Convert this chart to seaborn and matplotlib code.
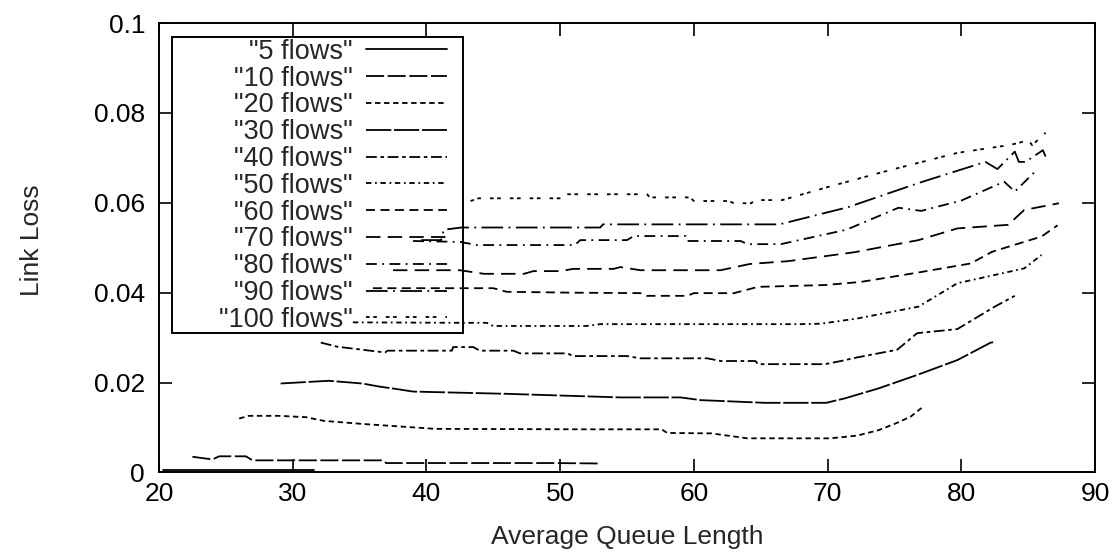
import matplotlib
matplotlib.use('Agg')
import pandas as pd
import seaborn as sns
import matplotlib.pyplot as plt
from matplotlib.patches import Rectangle

######################## data ########################

flow_names = ['"5 flows"', '"10 flows"', '"20 flows"', '"30 flows"', '"40 flows"', '"50 flows"',
              '"60 flows"', '"70 flows"', '"80 flows"', '"90 flows"', '"100 flows"']

x5 = [20.3, 25.0, 31.6]
y5 = [0.0005, 0.0005, 0.0005]

x10 = [22.5, 24.0, 24.5, 26.5, 27.0, 36.7, 37.0, 49.4, 53.0]
y10 = [0.0035, 0.0029, 0.0036, 0.0036, 0.0027, 0.0027, 0.0021, 0.0021, 0.0020]

x20 = [26.0, 26.7, 29.0, 31.0, 32.3, 35.2, 38.2, 40.7, 41.2, 51.7, 57.6, 58.0, 61.3,
       64.0, 70.2, 72.2, 73.8, 75.0, 76.2, 77.0, 77.2]
y20 = [0.0120, 0.0126, 0.0126, 0.0123, 0.0115, 0.0108, 0.0102, 0.0097, 0.0097, 0.0096,
       0.0096, 0.0088, 0.0087, 0.0076, 0.0076, 0.0082, 0.0094, 0.0108, 0.0124, 0.0143, 0.0150]

x30 = [29.1, 32.7, 35.2, 36.5, 37.7, 39.0, 46.0, 54.5, 59.0, 60.5, 65.3, 69.9, 71.3,
       73.8, 76.7, 79.7, 82.2, 82.5]
y30 = [0.0198, 0.0204, 0.0198, 0.0191, 0.0186, 0.0180, 0.0175, 0.0167, 0.0167, 0.0161,
       0.0155, 0.0155, 0.0165, 0.0187, 0.0217, 0.0250, 0.0289, 0.0290]

x40 = [32.1, 33.3, 36.9, 37.1, 41.9, 42.0, 43.5, 44.0, 46.5, 47.0, 50.5, 51.0, 55.0,
       56.0, 61.0, 62.0, 64.6, 64.8, 69.8, 71.0, 72.2, 75.2, 76.7, 79.7, 82.5, 84.0]
y40 = [0.0289, 0.0280, 0.0267, 0.0271, 0.0271, 0.0279, 0.0279, 0.0271, 0.0271, 0.0265,
       0.0265, 0.0259, 0.0259, 0.0254, 0.0254, 0.0248, 0.0248, 0.0241, 0.0241, 0.0248,
       0.0256, 0.0273, 0.0310, 0.0319, 0.0369, 0.0393]

x50 = [34.5, 42.5, 44.5, 45.0, 52.0, 53.0, 68.0, 69.5, 72.3, 76.8, 79.7, 84.7, 86.0]
y50 = [0.0334, 0.0333, 0.0333, 0.0326, 0.0326, 0.0330, 0.0330, 0.0331, 0.0343, 0.0369,
       0.0421, 0.0454, 0.0484]

x60 = [36.0, 42.5, 45.0, 46.0, 51.0, 56.0, 56.5, 59.5, 60.0, 63.0, 64.8, 69.8, 72.5,
       76.8, 80.7, 82.3, 86.0, 87.2]
y60 = [0.0410, 0.0410, 0.0410, 0.0402, 0.0400, 0.0399, 0.0393, 0.0393, 0.0399, 0.0399,
       0.0413, 0.0417, 0.0424, 0.0445, 0.0465, 0.0491, 0.0525, 0.0550]

x70 = [37.5, 42.5, 44.3, 47.3, 48.0, 50.0, 51.0, 54.0, 54.5, 56.0, 62.0, 64.2, 67.0,
       72.0, 76.8, 79.7, 83.5, 84.7, 87.3]
y70 = [0.0450, 0.0450, 0.0442, 0.0442, 0.0448, 0.0448, 0.0453, 0.0453, 0.0457, 0.0450,
       0.0450, 0.0464, 0.0470, 0.0490, 0.0517, 0.0543, 0.0551, 0.0584, 0.0599]

x80 = [39.0, 42.5, 43.8, 51.1, 51.5, 55.0, 55.5, 59.4, 59.5, 63.5, 64.0, 66.5, 71.4,
       75.3, 77.0, 80.0, 83.2, 84.0, 85.5]
y80 = [0.0515, 0.0513, 0.0506, 0.0506, 0.0517, 0.0517, 0.0526, 0.0526, 0.0515, 0.0515,
       0.0508, 0.0508, 0.0540, 0.0589, 0.0582, 0.0605, 0.0647, 0.0625, 0.0669]

x90 = [39.6, 41.1, 41.3, 42.6, 53.0, 53.2, 66.4, 71.5, 76.8, 81.8, 82.7, 84.0, 84.3,
       84.8, 86.1, 86.3]
y90 = [0.0517, 0.0517, 0.0540, 0.0545, 0.0545, 0.0552, 0.0552, 0.0590, 0.0644, 0.0691,
       0.0675, 0.0714, 0.0691, 0.0691, 0.0717, 0.0703]

x100 = [43.3, 43.9, 50.3, 50.5, 56.5, 56.7, 59.7, 60.0, 62.6, 63.0, 64.3, 64.5, 66.6,
        70.0, 74.7, 79.7, 83.7, 84.5, 85.0, 85.3, 86.3]
y100 = [0.0604, 0.0610, 0.0610, 0.0619, 0.0619, 0.0612, 0.0612, 0.0604, 0.0604, 0.0599,
        0.0599, 0.0606, 0.0606, 0.0635, 0.0673, 0.0711, 0.0729, 0.0735, 0.0740, 0.0728, 0.0756]

xs = [x5, x10, x20, x30, x40, x50, x60, x70, x80, x90, x100]
ys = [y5, y10, y20, y30, y40, y50, y60, y70, y80, y90, y100]

x_ticks = [20, 30, 40, 50, 60, 70, 80, 90]
y_ticks = [0, 0.02, 0.04, 0.06, 0.08, 0.1]
y_ticklabels = ['0', '0.02', '0.04', '0.06', '0.08', '0.1']

########################################################################

df = pd.concat([pd.DataFrame({'Average Queue Length': x, 'Link Loss': y, 'flows': n})
                for n, x, y in zip(flow_names, xs, ys)], ignore_index=True)

# gnuplot style monochrome dash types
dash_types = ['', (10, 2), (3, 2), (14, 1.5), (6, 2, 2, 2), (3, 2, 1, 2),
              (5, 3), (8, 4), (6, 3, 1, 3), (12, 3, 1, 3), (2, 2, 2, 5)]
dashes = dict(zip(flow_names, dash_types))
palette = {n: 'black' for n in flow_names}

sns.set_style('ticks')
plt.rcParams['font.family'] = ['Liberation Sans', 'DejaVu Sans']

fig, ax = plt.subplots(figsize=(11.14, 5.53), dpi=100)
fig.subplots_adjust(left=0.1427, right=0.983, top=0.9584, bottom=0.1456)

sns.lineplot(data=df, x='Average Queue Length', y='Link Loss', hue='flows', style='flows',
             hue_order=flow_names, style_order=flow_names, palette=palette, dashes=dashes,
             estimator=None, sort=False, lw=1.3, legend=False, ax=ax)

ax.set_xlim(20, 90)
ax.set_ylim(0, 0.1)
ax.set_xticks(x_ticks)
ax.set_xticklabels([str(t) for t in x_ticks])
ax.set_yticks(y_ticks)
ax.set_yticklabels(y_ticklabels)
ax.tick_params(direction='in', length=9.5, width=1.2, top=True, right=True,
               labelsize=19, color='black', labelcolor='black')
ax.tick_params(axis='x', pad=6.5)
ax.tick_params(axis='y', pad=10)
for s in ax.spines.values():
    s.set_linewidth(1.4)
    s.set_color('black')

ax.set_xlabel('Average Queue Length', fontsize=19)
ax.set_ylabel('Link Loss', fontsize=19)
ax.xaxis.set_label_coords(0.5, -0.117)
ax.yaxis.set_label_coords(-0.123, 0.517)

# gnuplot key: box drawn apart, text right-justified left of the sample line
ax.add_patch(Rectangle((0.0139, 0.310), 0.3104, 0.659, transform=ax.transAxes,
                       fill=False, edgecolor='black', lw=1.4, zorder=5))
leg = ax.legend(ax.lines[:len(flow_names)], flow_names, loc='upper right',
                bbox_to_anchor=(0.3077, 0.965), borderaxespad=0, markerfirst=False,
                fontsize=19.5, handlelength=3.0, handletextpad=0.48, labelspacing=0.03,
                borderpad=0, frameon=False)

fig.savefig('out.png', dpi=100)
